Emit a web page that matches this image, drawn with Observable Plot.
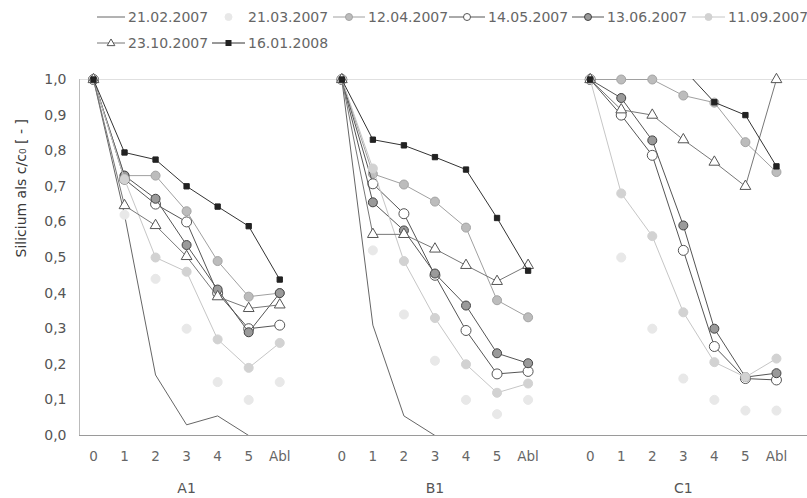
<!DOCTYPE html>
<html><head><meta charset="utf-8">
<script src="https://cdn.jsdelivr.net/npm/d3@7"></script>
<script src="https://cdn.jsdelivr.net/npm/@observablehq/plot@0.6"></script>
<style>
body{margin:0;background:#fff;}
#wrap{position:relative;width:807px;height:498px;font-family:"DejaVu Sans",sans-serif;}
#legend{position:absolute;left:0;top:0;width:807px;height:60px;}
.item{position:absolute;height:20px;font-size:14px;color:#666;white-space:nowrap;line-height:20px}
.item svg{position:absolute;top:0}
.item span{position:absolute;top:0}
</style></head><body>
<div id="wrap"><div id="chart"></div><div id="legend"></div></div>
<script>
// categories
const positions = ["0","1","2","3","4","5","Abl"];
const panels = ["A1","B1","C1"];
const panelStart = [0, 8, 16];
const seriesNames = ["21.02.2007","21.03.2007","12.04.2007","14.05.2007","13.06.2007","11.09.2007","23.10.2007","16.01.2008"];
const yTicks = [0,0.1,0.2,0.3,0.4,0.5,0.6,0.7,0.8,0.9,1.0];

// values per series: [A1, B1, C1]
const d21_02 = [[1.0,0.62,0.17,0.03,0.055,0.0,0.0],[1.0,0.31,0.055,0.0,0.0,0.0,0.0],[null,null,null,null,null,null,null]];
const d21_03 = [[1.0,0.62,0.44,0.30,0.15,0.10,0.15],[1.0,0.52,0.34,0.21,0.10,0.06,0.10],[1.0,0.50,0.30,0.16,0.10,0.07,0.07]];
const d12_04 = [[1.0,0.73,0.73,0.63,0.49,0.39,0.40],[1.0,0.735,0.705,0.657,0.584,0.38,0.332],[1.0,1.0,1.0,0.955,0.935,0.824,0.74]];
const d14_05 = [[1.0,0.72,0.65,0.60,0.40,0.30,0.31],[1.0,0.707,0.623,0.45,0.295,0.173,0.18],[1.0,0.90,0.787,0.52,0.25,0.16,0.156]];
const d13_06 = [[1.0,0.73,0.665,0.535,0.41,0.29,0.40],[1.0,0.655,0.576,0.455,0.365,0.231,0.203],[1.0,0.948,0.829,0.59,0.30,0.164,0.175]];
const d11_09 = [[1.0,0.72,0.50,0.46,0.27,0.19,0.26],[1.0,0.75,0.49,0.33,0.20,0.12,0.146],[1.0,0.68,0.56,0.346,0.206,0.164,0.216]];
const d23_10 = [[1.0,0.646,0.59,0.503,0.39,0.357,0.367],[1.0,0.565,0.565,0.524,0.478,0.433,0.478],[1.0,0.915,0.90,0.831,0.768,0.70,1.0]];
const d16_01 = [[1.0,0.795,0.775,0.70,0.643,0.588,0.438],[1.0,0.831,0.815,0.782,0.747,0.611,0.463],[1.0,null,null,1.03,0.936,0.90,0.756]];

const seriesData = [d21_02,d21_03,d12_04,d14_05,d13_06,d11_09,d23_10,d16_01];

const styles = [
  {line:"#666", lw:1, symbol:null},
  {line:null, symbol:"circle", fill:"#e8e8e8", stroke:"#e8e8e8", r:4.5},
  {line:"#a0a0a0", lw:1, symbol:"circle", fill:"#bcbcbc", stroke:"#a4a4a4", r:4.5},
  {line:"#555", lw:1, symbol:"circle", fill:"#fff", stroke:"#555", r:5},
  {line:"#555", lw:1, symbol:"circle", fill:"#9a9a9a", stroke:"#444", r:4.5},
  {line:"#c6c6c6", lw:1, symbol:"circle", fill:"#d2d2d2", stroke:"#d2d2d2", r:4.5},
  {line:"#777", lw:1, symbol:"triangle", fill:"#fff", stroke:"#555", r:4},
  {line:"#333", lw:1, symbol:"square", fill:"#222", stroke:"#222", r:3}
];

// build table
function rowsFor(si){
  const out=[];
  seriesData[si].forEach((vals,pi)=>vals.forEach((v,k)=>out.push({series:seriesNames[si],panel:panels[pi],x:panelStart[pi]+k,v})));
  return out;
}

const marks = [
  Plot.ruleY([1], {stroke:"#e0e0e0"}),
  Plot.ruleY([0], {stroke:"#9a9a9a"}),
  Plot.ruleX([-0.45], {y1:0, y2:1, stroke:"#bbb"}),
  Plot.axisY({ticks: yTicks, tickFormat: d => d.toFixed(1).replace(".",","), tickSize:0, tickPadding:13, fontSize:14, fill:"#555", label:null}),
  Plot.axisX({ticks: panelStart.flatMap(s=>positions.map((_,k)=>s+k)), tickFormat: d => positions[d % 8], tickSize:0, tickPadding:16, fontSize:13.5, fill:"#666", label:null}),
  Plot.axisX({ticks: panelStart.map(s=>s+3), tickFormat: d => panels[Math.floor(d/8)], tickSize:0, tickPadding:48, fontSize:14, fill:"#555", label:null}),
  Plot.text([0], {frameAnchor:"left", text: () => "Silicium als c/c\u2080 [ - ]", rotate:-90, dx:-58, fontSize:14, fill:"#3a3a3a", fontWeight:"normal"})
];

styles.forEach((st,si)=>{
  const rows = rowsFor(si);
  if (st.line) marks.push(Plot.line(rows, {x:"x", y:"v", z:"panel", stroke:st.line, strokeWidth:st.lw, clip:true}));
  if (st.symbol) marks.push(Plot.dot(rows.filter(d=>d.v!=null && d.v<=1), {x:"x", y:"v", symbol:st.symbol, r:st.r, fill:st.fill, stroke:st.stroke, strokeWidth:1}));
});

const chart = Plot.plot({
  width:807, height:498,
  marginLeft:79, marginRight:0, marginTop:79, marginBottom:63,
  x:{domain:[-0.45,23.0], axis:null},
  y:{domain:[0,1], axis:null},
  style:{fontFamily:"DejaVu Sans, sans-serif", background:"#fff"},
  marks
});
document.getElementById("chart").appendChild(chart);

// legend
const legendSample = [97,212,333,449,572,692,97,212];
const legendText   = [128,248,368,488,607,728,128,248];
const legendRowY   = [17,17,17,17,17,17,43,43];
const legend = document.getElementById("legend");
const symPath = {
  circle: r => `<circle cx="0" cy="0" r="${r}"/>`,
  square: r => `<rect x="${-r}" y="${-r}" width="${2*r}" height="${2*r}"/>`,
  triangle: r => `<path d="M0,${-r*1.15}L${r*1.1},${r*0.75}L${-r*1.1},${r*0.75}Z"/>`
};
seriesNames.forEach((name,i)=>{
  const st = styles[i];
  const w = legendText[i]-legendSample[i]-3;
  const div = document.createElement("div");
  div.className="item";
  div.style.left = legendSample[i]+"px";
  div.style.top = (legendRowY[i]-10)+"px";
  let svg = `<svg width="${w}" height="20" style="left:0">`;
  if (st.line) svg += `<line x1="0" x2="${w}" y1="10" y2="10" stroke="${st.line}" stroke-width="1"/>`;
  if (st.symbol) svg += `<g transform="translate(${w/2},10)" fill="${st.fill}" stroke="${st.stroke}">${symPath[st.symbol](st.symbol==="square"?2.5:3.5)}</g>`;
  svg += `</svg>`;
  div.innerHTML = svg + `<span style="left:${w+3}px">${name}</span>`;
  legend.appendChild(div);
});
</script>
</body></html>
